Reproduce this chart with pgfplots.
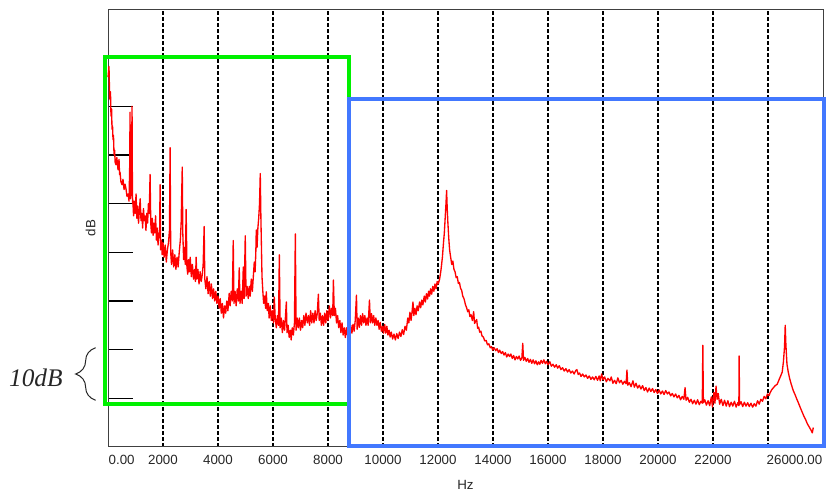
\documentclass[border=0pt]{standalone}
\usepackage{pgfplots}
\pgfplotsset{compat=1.18}
\usepackage{fontspec}
\setmainfont{Liberation Sans}
\newfontfamily\serifit{Liberation Serif}
\usetikzlibrary{decorations.pathreplacing}
\definecolor{specred}{RGB}{255,0,0}
\definecolor{boxgreen}{RGB}{0,240,0}
\definecolor{boxblue}{RGB}{66,120,255}

\pgfplotstableread{
x y
0 66
36 68.2
60 62
73 61.4
90 63
109 58
130 59.5
146 55.3
165 56
182 53.2
200 54
219 50.1
240 51
260 48.5
291 48.0
320 49.5
364 47.0
401 49.1
420 46
437 46.5
470 44.5
510 43.9
545 45
583 42.9
620 44
656 43
690 41.5
730 42
765 40.5
790 48
801 58.8
815 41
840 42
860 50
874 60
890 40
900 41
930 37.5
960 40.5
990 38
1020 42
1050 37
1080 39.5
1110 36
1140 38.5
1170 41
1200 36.5
1230 38
1260 35
1290 39
1320 36.5
1350 37.5
1380 34.5
1410 38
1440 36
1470 40
1500 38
1530 46
1555 36
1580 34
1610 37
1640 33.5
1670 36
1700 34
1730 37.5
1760 32.5
1790 35
1820 31.5
1850 34
1875 33
1894 43.9
1915 30.5
1940 32.5
1970 29.5
2000 32
2040 29
2080 31.5
2120 28
2160 30.5
2200 32
2235 34.5
2259 51.5
2280 30
2310 27.5
2350 30.5
2390 27
2430 29.5
2470 26.5
2510 29
2550 27
2590 30
2630 32.5
2660 36
2680 42
2700 47.5
2720 34
2750 28.5
2780 31
2810 27.5
2842 38.8
2870 27
2900 25.5
2930 28.5
2960 26
2990 29
3030 25
3070 27.5
3110 24.5
3150 26.5
3180 24
3206 29
3230 24.5
3270 26.5
3310 23.5
3350 26
3390 24
3430 25.5
3460 27.5
3497 35.3
3520 24.5
3560 22.5
3600 25
3640 21.5
3680 24
3720 21
3760 23.5
3800 20.5
3840 22.5
3880 20
3920 22
3960 19.5
4000 21
4044 18.5
4080 20.5
4120 17.5
4160 19.5
4200 16.5
4240 19
4280 17.5
4320 20
4360 18
4408 21.6
4440 19
4480 22
4520 20
4554 32.4
4580 19.5
4620 22
4660 19
4700 22.5
4740 20
4772 26.8
4800 19.5
4840 22
4880 19.5
4920 27
4950 20.5
4991 33.4
5020 21
5060 23
5100 20.5
5137 23
5170 21
5210 24.5
5250 22
5290 25.5
5319 28
5350 26
5375 30
5392 34.6
5420 31
5450 35
5480 37
5510 40
5537 46.2
5560 37
5580 31
5600 25
5630 22
5660 19.5
5700 21
5730 18.5
5756 21.9
5790 18
5830 19.5
5860 16.5
5900 19
5940 16
5980 18
6020 15.5
6047 20.8
6080 16.5
6120 14.5
6160 17
6200 15
6230 29.5
6260 14.5
6300 16.5
6340 13.5
6380 16
6420 14
6450 16.5
6485 19.8
6510 13.5
6550 15
6590 12.5
6630 14
6660 12
6700 14.5
6740 13
6780 15.5
6812 33.8
6840 14
6880 16.5
6920 14.5
6960 16.5
7000 14
7040 16
7080 14.5
7120 17
7160 15
7200 17.5
7250 15.5
7290 17
7330 15
7370 18
7410 15.5
7450 17.5
7490 15.5
7530 18
7570 16
7610 17.5
7650 21.4
7680 16
7720 17.5
7760 15
7800 17
7840 15
7880 17.5
7920 15.5
7960 18
8000 16
8051 19
8090 16.5
8130 18.5
8170 17
8197 24.3
8230 17
8270 18.5
8310 15.5
8350 17
8390 14.5
8430 16
8470 13.5
8510 15.5
8550 13
8590 14.5
8630 12.5
8670 14.5
8707 13
8750 14.5
8790 12.8
8830 15
8870 13.4
8910 15.2
8950 13.8
8990 16
9035 21.2
9060 14.2
9100 16.5
9140 14.6
9180 17
9220 15
9260 17.4
9300 15.5
9340 17
9380 15
9420 16.5
9460 15
9508 20.2
9540 15.5
9580 17.4
9620 15.5
9660 17
9700 15
9740 16.5
9780 15
9820 16
9860 14.2
9900 15.6
9940 13.8
9982 14.8
10020 13.4
10060 15.2
10100 13.4
10140 14.8
10180 13
10220 14
10260 12.6
10300 13.6
10350 12.2
10400 13.2
10450 12
10500 13.3
10550 12.3
10600 13.6
10650 12.7
10700 14.1
10750 13.1
10800 14.8
10850 14
10900 16.5
10940 15.5
10980 17.7
11020 16
11060 18
11090 19.8
11120 17
11160 18.5
11200 17.2
11240 19
11280 18
11330 19.8
11370 18.6
11410 20.2
11450 19.2
11500 21
11540 19.8
11580 21.5
11620 20.4
11660 22
11694 21
11730 22.5
11770 21.4
11810 23
11850 22
11890 23.5
11930 22.5
11970 24
12010 23.5
12058 24.5
12100 26
12131 27.5
12160 29
12200 32
12230 34
12260 37
12290 40
12313 42.7
12335 39
12360 36
12390 33
12422 30.5
12460 29
12500 27.5
12540 28.2
12580 26.5
12620 26
12660 24.8
12700 25
12740 23.6
12780 23.8
12820 22.6
12860 22.2
12900 21
12950 20.4
13000 19.2
13042 18.6
13080 17.8
13120 18.2
13160 16.8
13200 17.2
13250 16
13297 17.8
13330 15.4
13370 15.8
13406 16.2
13440 14.4
13480 14.6
13516 13.6
13560 13.8
13600 12.8
13650 12.6
13698 11.8
13750 11.9
13800 11
13850 11.2
13900 10.4
13950 10.6
13989 9.9
14040 10.4
14100 9.8
14150 10.2
14200 9.4
14244 9.9
14300 9.2
14350 9.6
14400 8.9
14450 9.4
14499 8.5
14550 9.1
14600 8.6
14650 9.1
14700 8.2
14750 8.8
14800 7.9
14850 8.6
14900 8.1
14950 8.7
15000 7.8
15050 8.3
15082 11.3
15110 7.8
15160 8.4
15210 7.6
15260 8.2
15310 7.4
15360 8
15410 7.2
15460 7.9
15510 7.1
15560 7.7
15610 6.9
15660 7.5
15701 7
15750 7.8
15800 7.2
15850 7.9
15900 7.1
15950 7.6
16000 6.9
16066 7.5
16120 6.6
16180 7
16240 6.4
16300 6.9
16350 6.2
16410 6.7
16470 5.9
16530 6.3
16590 5.6
16650 6.1
16710 5.4
16770 5.9
16830 5.2
16890 5.6
16950 5
17010 5.7
17049 5.9
17100 4.9
17150 5.2
17200 4.5
17260 5
17320 4.4
17380 4.8
17440 4.1
17500 4.6
17560 3.9
17620 4.4
17680 3.8
17740 4.5
17800 3.7
17860 4.6
17900 3.6
17950 5
18000 3.8
18060 4.4
18120 3.4
18180 4.1
18252 3.6
18300 4.4
18360 3.1
18420 3.7
18480 3
18540 4.2
18600 3.2
18660 3.7
18720 2.9
18780 3.5
18840 3
18871 5.8
18900 2.7
18960 3.2
19020 2.4
19089 3.6
19140 2.3
19200 3.1
19260 2.1
19320 2.7
19380 1.9
19440 2.6
19500 1.6
19560 2.2
19620 1.3
19680 2.1
19740 1.4
19800 2
19860 1.2
19920 1.8
19980 1
20040 1.7
20100 0.9
20160 1.5
20220 0.8
20280 1.6
20340 0.9
20400 1.3
20460 0.5
20520 1
20580 0.3
20640 0.9
20700 0.1
20760 0.6
20820 -0.3
20880 0.4
20940 -0.2
20984 2.2
21020 -0.4
21080 0.2
21140 -0.8
21200 -0.2
21260 -1.1
21320 -0.4
21380 -1.2
21440 -0.3
21500 -1.3
21560 -0.6
21610 -1
21630 10.9
21650 -0.9
21700 -0.3
21760 -1.4
21820 -0.5
21880 -1.5
21940 0.3
21980 -1.8
22030 1.2
22070 -1
22110 2.5
22149 -0.2
22190 1
22240 -1.2
22300 -0.2
22360 -1.5
22420 -0.4
22480 -1.6
22540 -0.5
22600 -1.7
22660 -0.8
22720 -1.6
22780 -0.6
22840 -1.8
22900 -0.9
22940 -1.5
22951 8.7
22965 -1.3
23020 -0.7
23080 -1.7
23140 -0.8
23200 -1.6
23260 -0.9
23320 -1.7
23380 -1
23440 -1.8
23500 -1.1
23560 -1.6
23620 -0.5
23680 -1.2
23740 -0.2
23800 -0.6
23860 0.4
23920 -0.1
23980 0.9
24040 0.6
24080 1.2
24140 1.8
24200 2.2
24260 2.6
24335 2.9
24400 3.8
24460 4.6
24517 5.4
24560 7.5
24600 10.5
24626 15
24650 11
24690 7
24736 5.4
24790 4
24850 2.8
24918 1.6
24980 0.8
25050 -0.2
25110 -1
25173 -1.9
25240 -2.8
25300 -3.6
25370 -4.4
25428 -5.2
25500 -5.9
25560 -6.5
25610 -7.1
25647 -6
}\spectrum

\begin{document}
\begin{tikzpicture}
\useasboundingbox (0,0) rectangle (620.25pt,368.25pt);
\begin{axis}[
  at={(81pt,33pt)}, anchor=south west,
  width=536.25pt, height=328.5pt, scale only axis,
  xmin=0, xmax=26000, ymin=-10, ymax=80,
  clip=false,
  axis line style={draw=black!75, line width=0.75pt},
  xtick={2000,4000,...,24000},
  xticklabels={2000,4000,6000,8000,10000,12000,14000,16000,18000,20000,22000,{}},
  ytick={0,10,...,60},
  yticklabels={},
  tick align=inside,
  tick pos=left,
  major tick length=18.75pt,
  xtick style={draw=none},
  ytick style={black, line width=0.9pt},
  xmajorgrids,
  grid style={black, line width=1pt, dash pattern=on 3pt off 1.5pt},
  tick label style={font=\fontsize{10}{12}\selectfont, text=black!85},
  xticklabel style={yshift=-2.8pt},
  scaled x ticks=false,
  xlabel={Hz}, ylabel={dB},
  label style={font=\fontsize{10}{12}\selectfont, text=black!85},
  xlabel style={at={(axis description cs:0.5,0)}, anchor=north, yshift=-21.5pt},
  ylabel style={at={(axis description cs:-0.011,0.5)}, anchor=south},
]
\addplot[specred, line width=1pt, line join=round] table[x=x,y=y] {\spectrum};
\draw[boxgreen, line width=3pt] (axis cs:-110,-1.2) rectangle (axis cs:8780,70.1);
\draw[boxblue, line width=3pt] (axis cs:8780,-9.8) rectangle (axis cs:26040,61.6);
\node[anchor=north west, font=\fontsize{10}{12}\selectfont, text=black!85, xshift=-3pt, yshift=-2.8pt] at (axis cs:0,-10) {0.00};
\node[anchor=north east, font=\fontsize{10}{12}\selectfont, text=black!85, xshift=3pt, yshift=-2.8pt] at (axis cs:26000,-10) {26000.00};
\draw[black!85, line width=0.75pt, decorate, decoration={brace, amplitude=15pt}] (axis cs:-450,-0.4) -- (axis cs:-450,10.4);
\node[font=\serifit\itshape\fontsize{19}{22}\selectfont, text=black!85] at (axis cs:-2623,4.3) {10dB};
\end{axis}
\end{tikzpicture}
\end{document}
